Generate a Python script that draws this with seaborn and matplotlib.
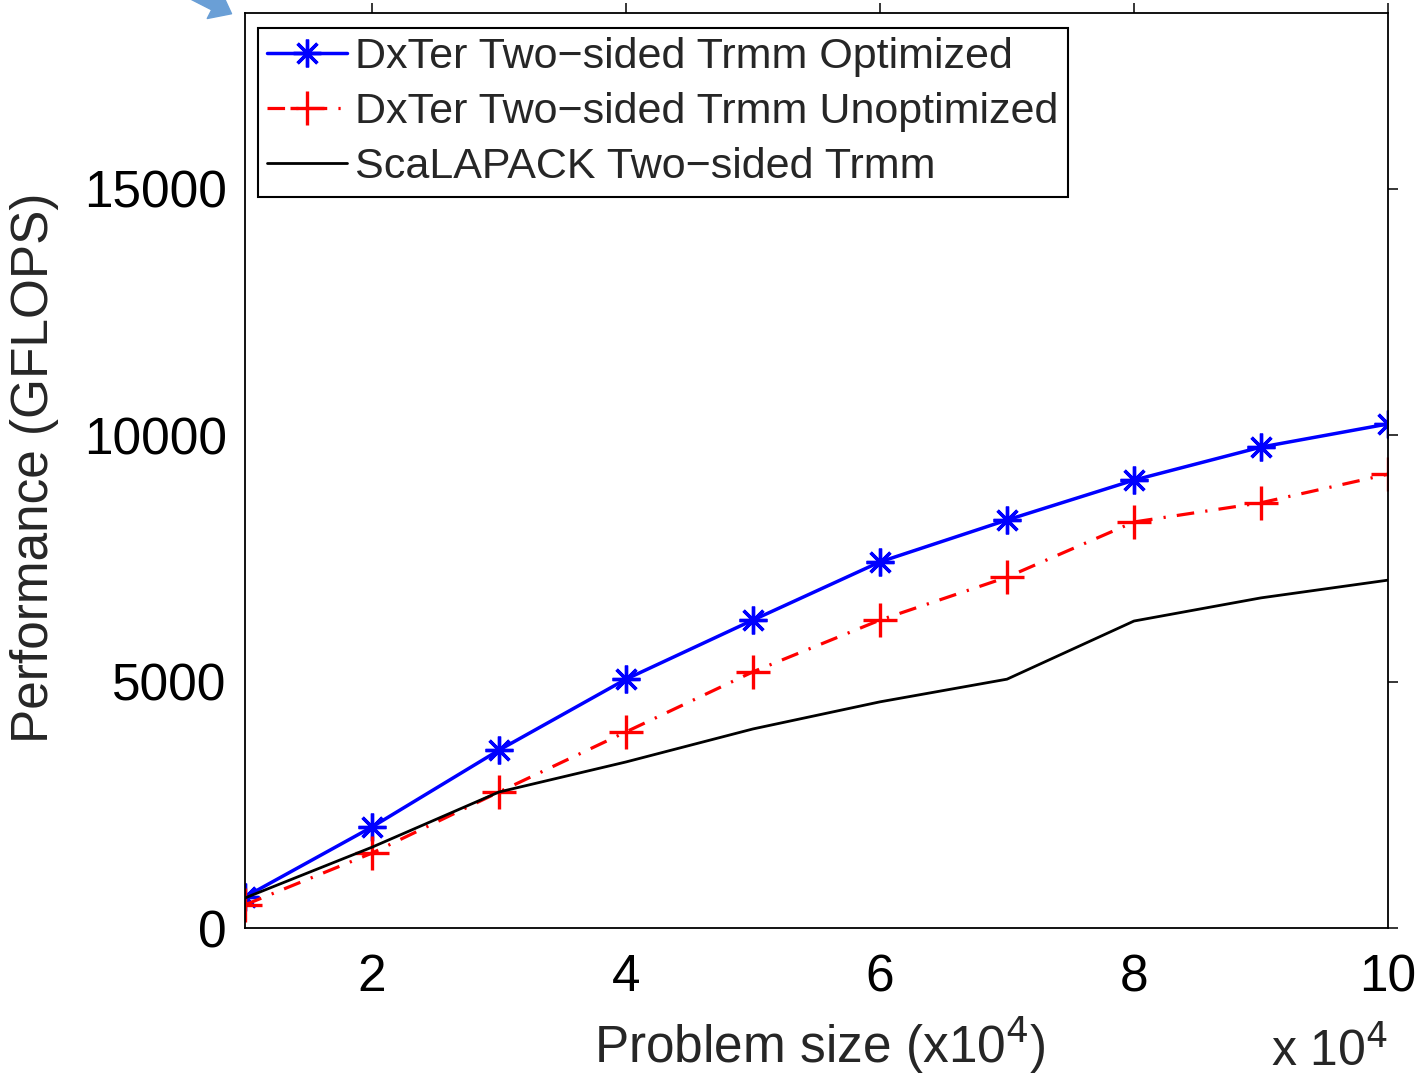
import matplotlib
matplotlib.use("Agg")
import matplotlib.pyplot as plt
import seaborn as sns
import pandas as pd
from matplotlib.ticker import FixedLocator, FuncFormatter

# ---- data ----
problem_size = [10000, 20000, 30000, 40000, 50000, 60000, 70000, 80000, 90000, 100000]
dxter_opt = [630, 2050, 3610, 5050, 6250, 7430, 8280, 9090, 9760, 10230]
dxter_unopt = [470, 1520, 2760, 3980, 5200, 6250, 7120, 8240, 8630, 9210]
scalapack = [610, 1640, 2760, 3370, 4040, 4590, 5050, 6230, 6700, 7060]
series_names = ["DxTer Two\u2212sided Trmm Optimized",
                "DxTer Two\u2212sided Trmm Unoptimized",
                "ScaLAPACK Two\u2212sided Trmm"]
xticks = [20000, 40000, 60000, 80000, 100000]
yticks = [0, 5000, 10000, 15000]

df = pd.DataFrame({
    "size": problem_size * 3,
    "perf": dxter_opt + dxter_unopt + scalapack,
    "series": [series_names[0]] * 10 + [series_names[1]] * 10 + [series_names[2]] * 10,
})

sns.set_theme(style="white")
plt.rcParams["font.family"] = ["Liberation Sans", "DejaVu Sans"]

W, H = 1425, 1077
fig = plt.figure(figsize=(W / 100, H / 100), dpi=100)
ax = fig.add_axes([245 / W, 1 - 928 / H, (1388 - 245) / W, (928 - 13) / H])

styles = [
    dict(color="#0000ff", marker=(8, 2, 0), markersize=20, markeredgewidth=2.4,
         linewidth=2.5, linestyle="-"),
    dict(color="#ff0000", marker="+", markersize=24, markeredgewidth=2.4,
         linewidth=2.3, linestyle=(0, (5.5, 3.5, 0.7, 3.5))),
    dict(color="#000000", marker=None, linewidth=2.0, linestyle="-"),
]
for name, st in zip(series_names, styles):
    sub = df[df["series"] == name]
    sns.lineplot(data=sub, x="size", y="perf", ax=ax, label=name,
                 markeredgecolor=st["color"], **st)

ax.set_xlim(10000, 100000)
ax.set_ylim(0, 18570)
ax.xaxis.set_major_locator(FixedLocator(xticks))
ax.xaxis.set_major_formatter(FuncFormatter(lambda v, p: f"{v / 1e4:g}"))
ax.yaxis.set_major_locator(FixedLocator(yticks))

for s in ax.spines.values():
    s.set_visible(True)
    s.set_color("black")
    s.set_linewidth(1.3)

ax.tick_params(axis="both", which="major", direction="out", length=7.2, width=1.1,
               labelsize=37, colors="black", top=True, right=True,
               labeltop=False, labelright=False)
ax.tick_params(axis="x", pad=11)
ax.tick_params(axis="y", pad=6)

ax.set_xlabel("Problem size (x10$^4$)", fontsize=37)
ax.set_ylabel("Performance (GFLOPS)", fontsize=37)
ax.xaxis.set_label_coords((820 - 245) / 1143, -(1045 - 928) / 915)
ax.yaxis.set_label_coords((35 - 245) / 1143, (928 - 468) / 915)
ax.xaxis.label.set_va("center")
ax.yaxis.label.set_va("center")

fig.text(1330 / W, 1 - 1066 / H, "x 10$^4$", fontsize=36, ha="center", va="baseline")

leg = ax.legend(loc="upper left", bbox_to_anchor=(0.011, 0.984), fontsize=31,
                frameon=True, fancybox=False, edgecolor="black", framealpha=1,
                handlelength=1.85, handletextpad=0.2, labelspacing=0.35,
                borderpad=0.22, borderaxespad=0.0)
leg.get_frame().set_linewidth(1.5)

# decorative arrow fragment at top-left
fig.patches.append(matplotlib.patches.FancyArrowPatch(
    (185 / W, 1 + 10 / H), (234 / W, 1 - 15 / H),
    transform=fig.transFigure, arrowstyle="simple,head_length=14,head_width=22,tail_width=8",
    color="#6a9fd6", mutation_scale=1))

fig.savefig("out.png", dpi=100)
